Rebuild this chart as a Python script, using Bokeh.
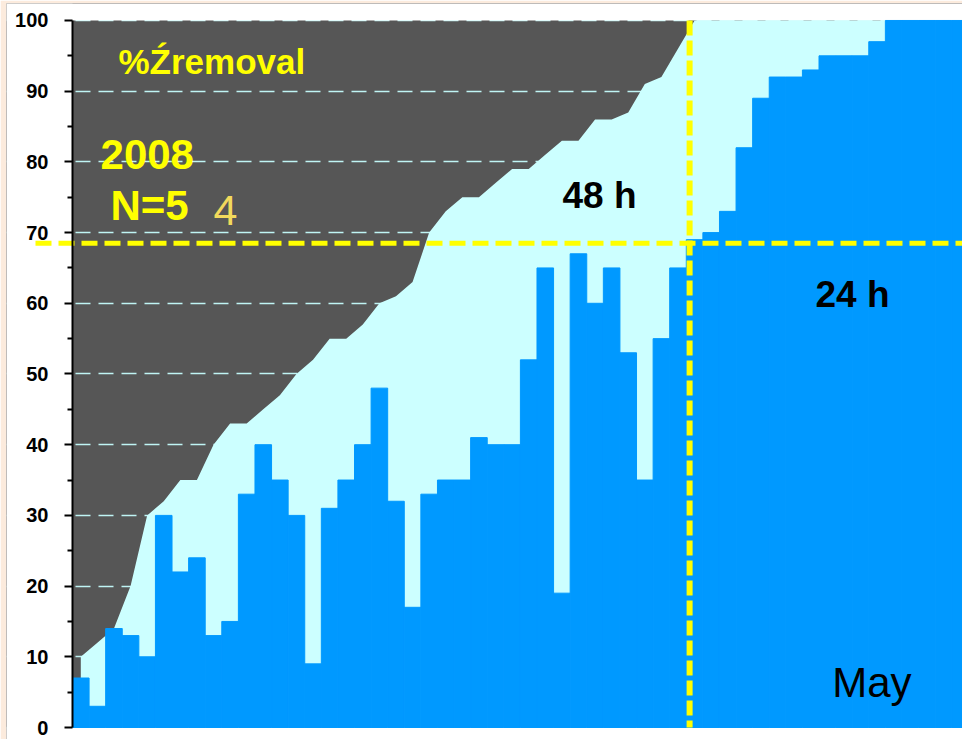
from bokeh.plotting import figure
from bokeh.models import Range1d, FixedTicker, Label
from bokeh.embed import file_html
from bokeh.resources import INLINE

# ---- data ----
day_index = list(range(54))  # consecutive days (bar positions)
removal_24h = [7, 3, 14, 13, 10, 30, 22, 24, 13, 15, 33, 40, 35, 30, 9,
               31, 35, 40, 48, 32, 17, 33, 35, 35, 41, 40, 40, 52, 65, 19,
               67, 60, 65, 53, 35, 55, 65,
               69, 70, 73, 82, 89, 92, 92, 93, 95, 95, 95, 97,
               100, 100, 100, 100, 100]
removal_48h = [10, 12, 14, 20, 30, 32, 35, 35, 40, 43, 43, 45, 47, 50, 52,
               55, 55, 57, 60, 61, 63, 70, 73, 75, 75, 77, 79, 79, 81, 83,
               83, 86, 86, 87, 91, 92, 96,
               100, 100, 100, 100, 100, 100, 100, 100, 100, 100, 100, 100,
               100, 100, 100, 100, 100]
y_ticks = [0, 10, 20, 30, 40, 50, 60, 70, 80, 90, 100]
y_minor = [5, 15, 25, 35, 45, 55, 65, 75, 85, 95]
threshold_removal = 68.5   # % removal reference line
threshold_day = 36.7       # day reference line

FONT = "Liberation Sans"
DARK = "#565656"
CYAN = "#ccffff"
BLUE = "#0099ff"
YELLOW = "#ffff00"
PEACH = "#fcebdd"

axis_x = -0.5
x_start, x_end = -4.478, 53.15
y_start, y_end = -1.697, 102.40

p = figure(width=962, height=739, output_backend="svg", toolbar_location=None,
           x_range=Range1d(x_start, x_end), y_range=Range1d(y_start, y_end),
           min_border_left=6, min_border_right=0,
           min_border_top=3, min_border_bottom=0)
p.background_fill_color = DARK
p.border_fill_color = PEACH
p.outline_line_color = None

# white surroundings of the plotting area (left of axis, above 100, below 0)
p.quad(left=[x_start, x_start, x_start], right=[axis_x, x_end, x_end],
       bottom=[y_start, 100, y_start], top=[y_end, y_end, 0],
       fill_color="white", line_color=None)

# 48 h removal (area) and 24 h removal (bars)
p.varea(x=day_index, y1=[0] * len(day_index), y2=removal_48h, fill_color=CYAN)
p.vbar(x=day_index, width=1.0, bottom=0, top=removal_24h,
       fill_color=BLUE, line_color=BLUE, line_width=1)

# axes / grid
p.xaxis.visible = False
p.xgrid.visible = False
ax = p.yaxis[0]
ax.fixed_location = axis_x
ax.bounds = (0, 100)
ax.ticker = FixedTicker(ticks=y_ticks, minor_ticks=y_minor)
ax.axis_line_color = "black"
ax.axis_line_width = 2
ax.major_tick_line_color = "black"
ax.major_tick_line_width = 2
ax.major_tick_out = 8
ax.major_tick_in = 0
ax.minor_tick_line_color = "black"
ax.minor_tick_line_width = 2
ax.minor_tick_out = 5
ax.minor_tick_in = 0
ax.major_label_text_font = FONT
ax.major_label_text_font_style = "bold"
ax.major_label_text_font_size = "20px"
ax.major_label_text_color = "black"
ax.major_label_standoff = 16
p.ygrid.grid_line_color = "#bff4f4"
p.ygrid.grid_line_width = 1.5
p.ygrid.grid_line_dash = "15 8"

# yellow reference lines
p.segment(x0=[-2.73], y0=[threshold_removal], x1=[x_end], y1=[threshold_removal],
          line_color=YELLOW, line_width=5, line_dash="16 7")
p.segment(x0=[threshold_day], y0=[100], x1=[threshold_day], y1=[0],
          line_color=YELLOW, line_width=6, line_dash="15 5")

def lab(x, y, text, size, color, style="bold"):
    p.add_layout(Label(x=x, y=y, text=text, text_font=FONT, text_font_size=size,
                       text_font_style=style, text_color=color,
                       text_align="left", text_baseline="alphabetic"))

lab(2.27, 94.2, "%Źremoval", "35px", YELLOW)
lab(1.19, 81.0, "2008", "42px", YELLOW)
lab(1.79, 73.8, "N=5", "42px", YELLOW)
lab(8.0, 73.1, "4", "43px", "#f2d95c", "normal")
lab(29.04, 75.3, "48 h", "37px", "black")
lab(44.29, 61.2, "24 h", "37px", "black")
lab(45.3, 6.3, "May", "42px", "black", "normal")

open("out.html", "w").write(file_html(p, INLINE))
